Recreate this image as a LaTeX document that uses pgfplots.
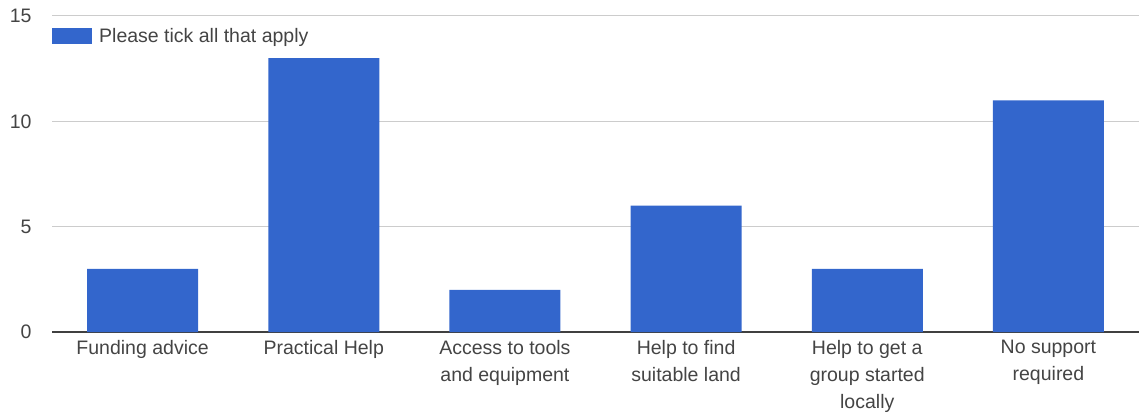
\documentclass[border=0pt]{standalone}
\usepackage{pgfplots}
\pgfplotsset{compat=1.18}
\usepackage{fontspec}
\setmainfont{Liberation Sans}
\definecolor{barblue}{HTML}{3366CC}
\definecolor{txt}{HTML}{444444}
\begin{document}
\begin{tikzpicture}
\begin{axis}[
  scale only axis,
  width=1087pt, height=316pt,
  xmin=-0.5, xmax=5.5, ymin=0, ymax=15,
  ytick={0,5,10,15},
  xtick=data,
  xticklabels={Funding advice,Practical Help,{Access to tools\\and equipment},{Help to find\\suitable land},{Help to get a\\group started\\locally},{No support\\required}},
  xticklabel style={align=center, font=\fontsize{19.5}{27}\selectfont, text=txt, yshift=-5pt},
  yticklabel style={font=\fontsize{19.5}{22}\selectfont, text=txt, xshift=-17pt},
  /pgf/number format/assume math mode=true,
  major tick length=0pt,
  ymajorgrids, grid style={draw=black!20, line width=1pt},
  axis x line*=bottom,
  axis y line*=left,
  x axis line style={draw=black!75, line width=1.3pt, -},
  y axis line style={draw=none},
  ybar, bar width=111pt,
  legend style={at={(0,1)}, anchor=north west, draw=none, fill=none,
    font=\fontsize{19.5}{22}\selectfont, text=txt, xshift=-3pt, yshift=-8pt},
  legend image code/.code={\fill[barblue] (0pt,-8pt) rectangle (40pt,8pt); \path (45pt,0pt);},
  legend cell align=left,
]
\addplot[fill=barblue, draw=none] coordinates {(0,3) (1,13) (2,2) (3,6) (4,3) (5,11)};
\addlegendentry{Please tick all that apply}
\end{axis}
\pgfresetboundingbox
\path ([shift={(-52pt,-80pt)}]current axis.south west) rectangle ([shift={(0pt,16pt)}]current axis.north east);
\end{tikzpicture}
\end{document}
